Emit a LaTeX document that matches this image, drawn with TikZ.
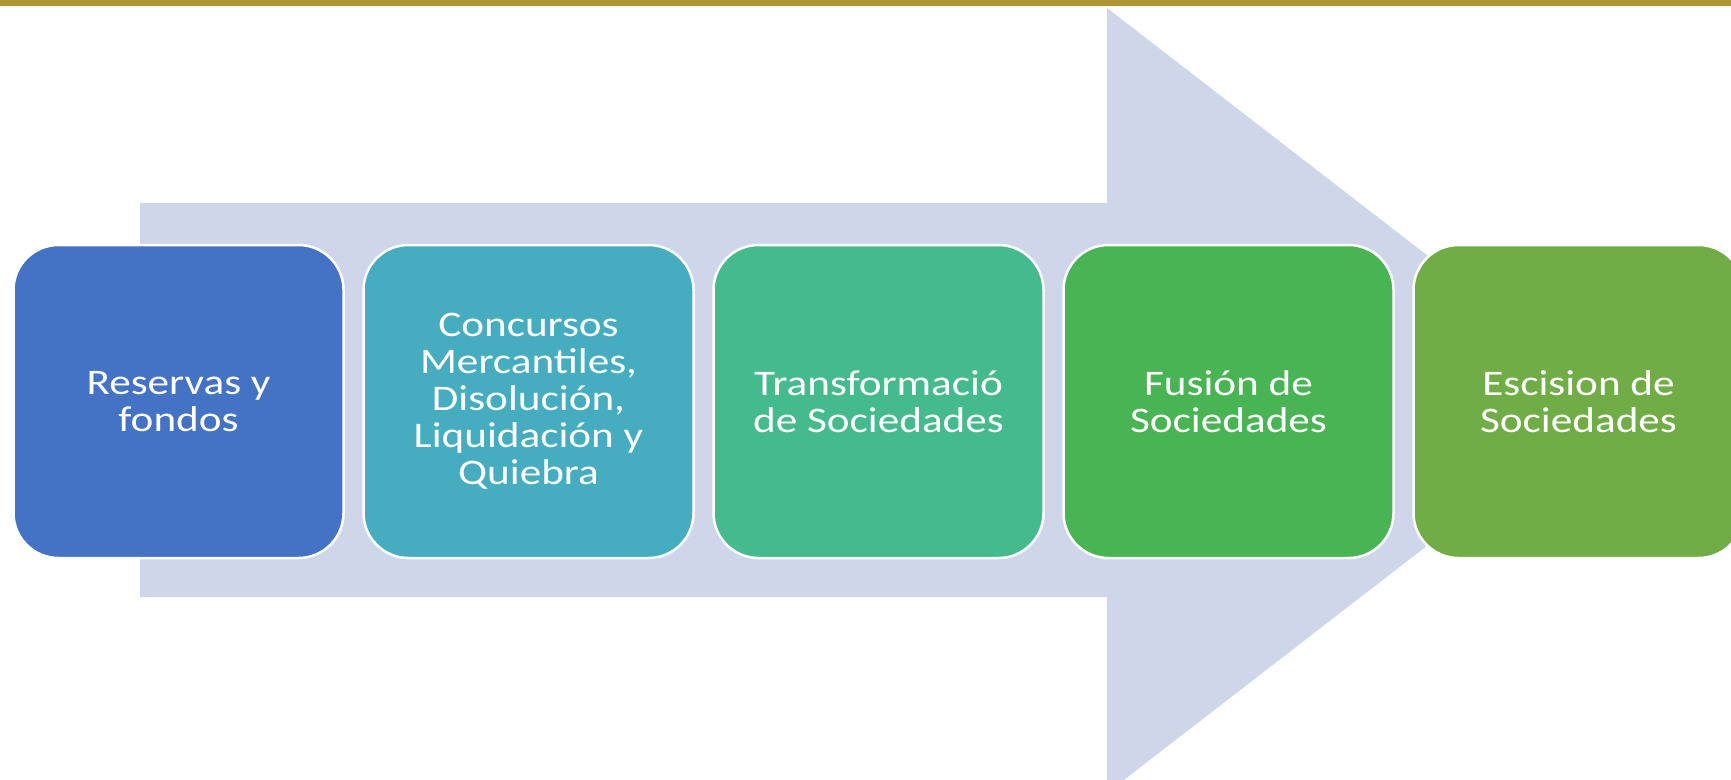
\documentclass[tikz,border=0pt]{standalone}
\usepackage{fontspec}
\setmainfont{Carlito}[FakeStretch=1.2]
\usetikzlibrary{positioning}
\definecolor{oro}{HTML}{AD9435}
\definecolor{flecha}{HTML}{CFD6EA}
\definecolor{azul}{HTML}{4472C4}
\definecolor{turquesa}{HTML}{45ADBF}
\definecolor{menta}{HTML}{45BB8D}
\definecolor{verde}{HTML}{48B454}
\definecolor{oliva}{HTML}{70AD47}
\tikzset{paso/.style={rectangle,rounded corners=45pt,draw=white,line width=2.5pt,
  minimum width=330pt,minimum height=313pt,outer sep=0pt,inner sep=0pt,
  text=white,align=center,font=\fontsize{36}{37}\selectfont}}
\begin{document}
\begin{tikzpicture}[x=1pt,y=-1pt,node distance=20pt]
\useasboundingbox (0,0) rectangle (1731,779);
\fill[white] (0,0) rectangle (1731,779);
\fill[oro] (0,0) rectangle (1731,6); % gold band on top
% big arrow behind the steps
\fill[flecha] (140,203) -- (1107,203) -- (1107,8) -- (1615,400.5)
  -- (1107,793) -- (1107,597) -- (140,597) -- cycle;
% the five steps
\node[paso,fill=azul] (reservas) at (178.5,401.5) {Reservas y\\fondos};
\node[paso,fill=turquesa,right=of reservas] (concursos) {Concursos\\Mercantiles,\\Disolución,\\Liquidación y\\Quiebra};
\node[paso,fill=menta,right=of concursos] (transf) {Transformació\\de Sociedades};
\node[paso,fill=verde,right=of transf] (fusion) {Fusión de\\Sociedades};
\node[paso,fill=oliva,right=of fusion] (escision) {Escision de\\Sociedades};
\end{tikzpicture}
\end{document}
